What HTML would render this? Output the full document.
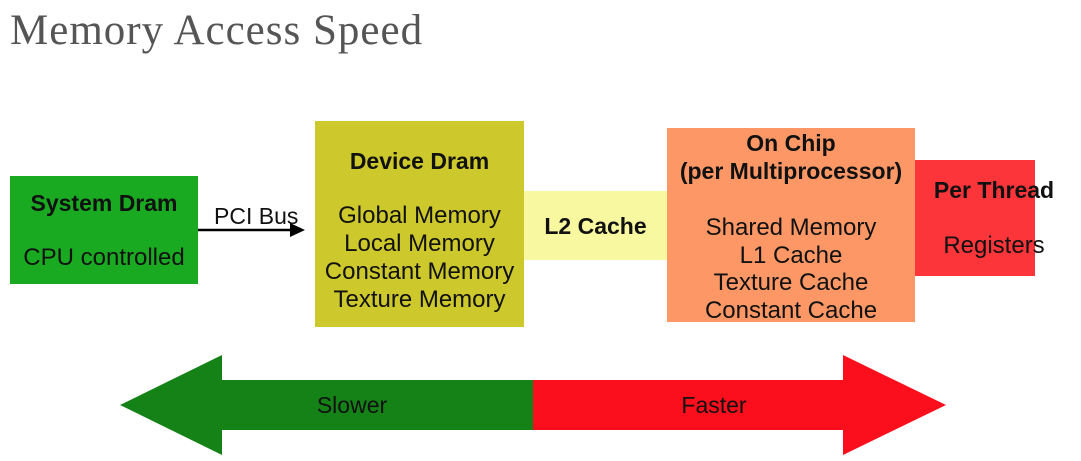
<!DOCTYPE html>
<html><head><style>
body{margin:0;width:1081px;height:461px;background:#fff;position:relative;overflow:hidden;font-family:"Liberation Sans",Arial,sans-serif}
.b{position:absolute;box-sizing:border-box;text-align:center;color:#111;font-size:24px;line-height:28px}
.t{font-weight:bold;font-size:23px}
.l{position:absolute;left:-40px;right:-40px;white-space:nowrap}
h1{position:absolute;left:10px;top:6px;margin:0;font-family:"Liberation Serif",serif;font-weight:normal;font-size:43px;color:#555;letter-spacing:1px}
</style></head><body>
<h1>Memory Access Speed</h1>
<div class="b" style="left:10px;top:176px;width:188px;height:108px;background:#1aaa22">
<div class="l t" style="top:13px">System Dram</div><div class="l" style="top:68px">CPU controlled</div></div>
<div class="b" style="left:315px;top:121px;width:209px;height:206px;background:#cdc82b">
<div class="l t" style="top:26px">Device Dram</div><div class="l" style="top:81px">Global Memory<br>Local Memory<br>Constant Memory<br>Texture Memory</div></div>
<div class="b" style="left:524px;top:191px;width:143px;height:69px;background:#f8f8a0">
<div class="l t" style="top:21px">L2 Cache</div></div>
<div class="b" style="left:667px;top:128px;width:248px;height:194px;background:#fd9866">
<div class="l t" style="top:1px">On Chip<br>(per Multiprocessor)</div><div class="l" style="top:86px;line-height:27.5px">Shared Memory<br>L1 Cache<br>Texture Cache<br>Constant Cache</div></div>
<div class="b" style="left:915px;top:160px;width:120px;height:116px;background:#fb353a">
<div class="l t" style="top:16px;left:-42px;right:-80px">Per Thread</div><div class="l" style="top:72px;left:-42px;right:-80px">Registers</div></div>
<svg width="1081" height="461" style="position:absolute;left:0;top:0">
<line x1="198" y1="230" x2="300" y2="230" stroke="#000" stroke-width="2.5"/>
<polygon points="290,223 305,230 290,237" fill="#000"/>
<text x="214" y="224" font-family="Liberation Sans,Arial" font-size="23" fill="#111">PCI Bus</text>
<polygon points="120,405 222,355 222,380 534,380 534,430 222,430 222,455" fill="#158217"/>
<polygon points="533,380 843,380 843,355 946,405 843,455 843,430 533,430" fill="#fb0f1c"/>
<text x="352" y="413" font-family="Liberation Sans,Arial" font-size="23" fill="#111" text-anchor="middle">Slower</text>
<text x="714" y="413" font-family="Liberation Sans,Arial" font-size="23" fill="#111" text-anchor="middle">Faster</text>
</svg>
</body></html>
